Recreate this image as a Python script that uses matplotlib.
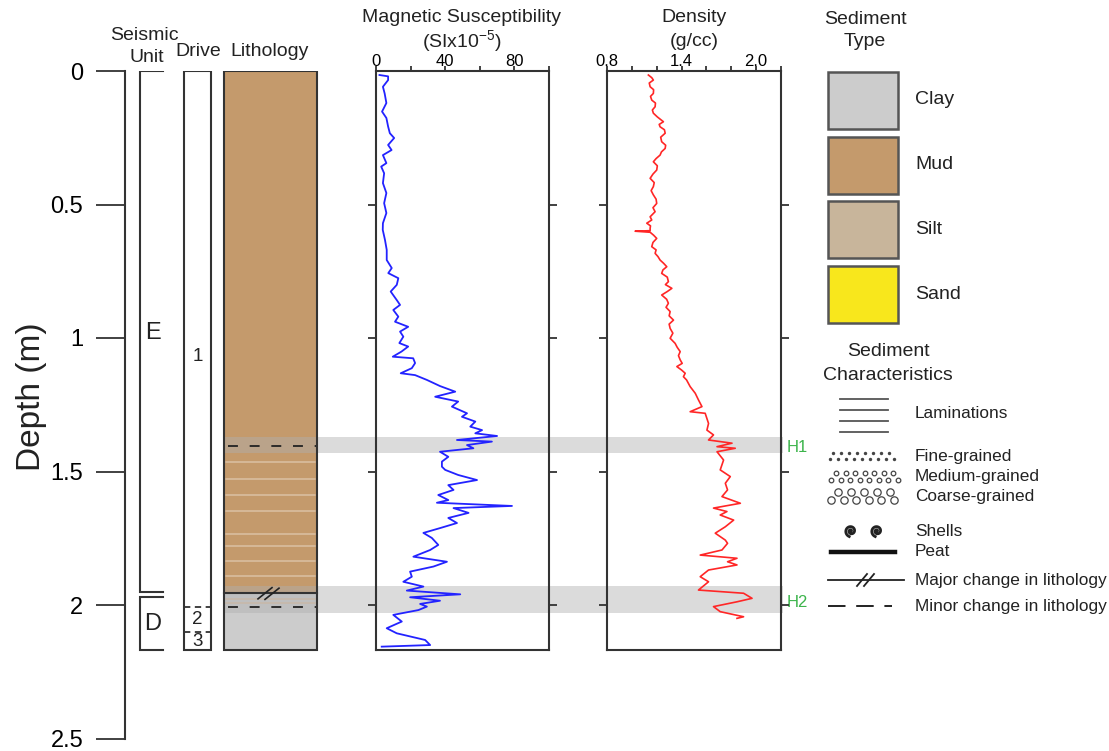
import numpy as np
import matplotlib.pyplot as plt
from matplotlib.patches import Rectangle

plt.rcParams['font.family'] = ['Liberation Sans', 'DejaVu Sans']
plt.rcParams['mathtext.default'] = 'regular'
plt.rcParams['text.color'] = '#222222'

# magnetic susceptibility log (depth in m, SI x 10^-5)
ms_depth = [0.015, 0.020, 0.034, 0.059, 0.084, 0.120, 0.152, 0.176, 0.208, 0.233,
            0.251, 0.277, 0.296, 0.315, 0.345, 0.358, 0.383, 0.420, 0.457, 0.495,
            0.532, 0.570, 0.595, 0.633, 0.670, 0.708, 0.738, 0.757, 0.776, 0.801,
            0.826, 0.858, 0.876, 0.895, 0.920, 0.939, 0.958, 0.976, 0.995, 1.019,
            1.032, 1.051, 1.070, 1.076, 1.094, 1.113, 1.132, 1.139, 1.157, 1.180,
            1.201, 1.220, 1.238, 1.257, 1.282, 1.295, 1.313, 1.332, 1.345, 1.357,
            1.367, 1.382, 1.388, 1.401, 1.413, 1.426, 1.445, 1.463, 1.482, 1.494,
            1.513, 1.532, 1.551, 1.569, 1.588, 1.607, 1.617, 1.629, 1.637, 1.655,
            1.674, 1.693, 1.712, 1.730, 1.749, 1.775, 1.794, 1.819, 1.838, 1.856,
            1.875, 1.894, 1.913, 1.931, 1.946, 1.960, 1.971, 1.984, 1.996, 2.006,
            2.019, 2.037, 2.062, 2.087, 2.106, 2.131, 2.150, 2.156]
ms_value = [2.0, 7.0, 7.0, 4.0, 5.0, 6.0, 3.5, 6.0, 7.0, 8.0,
            10.5, 7.0, 9.0, 4.0, 6.0, 3.0, 4.7, 4.0, 6.0, 4.7,
            6.0, 4.0, 3.9, 5.2, 6.2, 6.2, 9.1, 7.1, 12.9, 12.0,
            8.5, 12.0, 13.9, 10.0, 12.9, 11.0, 18.6, 13.9, 15.8, 13.5,
            18.6, 14.7, 9.7, 21.5, 22.6, 20.7, 14.3, 22.6, 29.4, 37.0,
            45.8, 34.2, 47.5, 43.9, 52.6, 49.7, 57.4, 54.5, 61.3, 57.4,
            70.0, 46.8, 67.0, 52.6, 56.3, 37.0, 41.8, 38.1, 38.1, 40.0,
            47.5, 58.4, 41.8, 44.8, 36.0, 41.8, 35.2, 78.6, 44.8, 53.5,
            41.8, 46.8, 37.0, 27.4, 32.3, 36.0, 31.3, 21.6, 41.0, 33.2,
            19.7, 20.7, 15.8, 27.4, 17.8, 48.7, 19.7, 37.0, 25.5, 29.4,
            24.5, 10.0, 14.9, 6.2, 12.0, 28.4, 31.3, 3.3]

# bulk density log (depth in m, g/cc)
dens_depth = [0.015, 0.025, 0.034, 0.045, 0.059, 0.070, 0.084, 0.095, 0.109, 0.120,
              0.134, 0.146, 0.158, 0.172, 0.190, 0.200, 0.209, 0.220, 0.233, 0.248,
              0.265, 0.278, 0.290, 0.303, 0.315, 0.328, 0.340, 0.355, 0.371, 0.386,
              0.402, 0.418, 0.433, 0.448, 0.464, 0.480, 0.496, 0.512, 0.527, 0.546,
              0.558, 0.570, 0.580, 0.589, 0.598, 0.600, 0.604, 0.615, 0.627, 0.642,
              0.658, 0.670, 0.683, 0.695, 0.708, 0.720, 0.733, 0.745, 0.758, 0.772,
              0.789, 0.800, 0.814, 0.826, 0.839, 0.855, 0.870, 0.885, 0.901, 0.917,
              0.933, 0.948, 0.964, 0.982, 1.001, 1.020, 1.035, 1.051, 1.066, 1.082,
              1.095, 1.107, 1.120, 1.132, 1.145, 1.157, 1.182, 1.207, 1.232, 1.257,
              1.276, 1.282, 1.320, 1.345, 1.363, 1.382, 1.394, 1.407, 1.413, 1.426,
              1.457, 1.494, 1.519, 1.544, 1.569, 1.594, 1.619, 1.637, 1.650, 1.663,
              1.682, 1.707, 1.731, 1.757, 1.769, 1.794, 1.813, 1.825, 1.838, 1.850,
              1.869, 1.894, 1.913, 1.944, 1.956, 1.975, 1.988, 2.006, 2.025, 2.044,
              2.050]
dens_value = [1.133, 1.160, 1.173, 1.140, 1.147, 1.175, 1.173, 1.150, 1.160, 1.190,
              1.187, 1.165, 1.173, 1.205, 1.254, 1.220, 1.227, 1.262, 1.268, 1.232,
              1.240, 1.272, 1.268, 1.238, 1.227, 1.195, 1.173, 1.205, 1.200, 1.170,
              1.147, 1.180, 1.173, 1.155, 1.173, 1.195, 1.200, 1.170, 1.187, 1.147,
              1.160, 1.120, 1.150, 1.147, 1.147, 1.026, 1.147, 1.175, 1.200, 1.170,
              1.160, 1.195, 1.187, 1.210, 1.227, 1.255, 1.281, 1.250, 1.240, 1.285,
              1.294, 1.270, 1.322, 1.285, 1.240, 1.280, 1.294, 1.275, 1.308, 1.300,
              1.335, 1.300, 1.308, 1.330, 1.308, 1.348, 1.365, 1.389, 1.375, 1.389,
              1.405, 1.362, 1.400, 1.429, 1.415, 1.440, 1.469, 1.510, 1.536, 1.564,
              1.469, 1.590, 1.617, 1.604, 1.657, 1.617, 1.806, 1.685, 1.832, 1.685,
              1.738, 1.711, 1.792, 1.752, 1.770, 1.725, 1.873, 1.657, 1.765, 1.711,
              1.819, 1.752, 1.671, 1.752, 1.770, 1.725, 1.550, 1.846, 1.770, 1.846,
              1.617, 1.550, 1.617, 1.536, 1.899, 1.967, 1.846, 1.657, 1.711, 1.899,
              1.846]

core_base = 2.17

# lithology
lith_top = [0.0, 1.955]
lith_base = [1.955, core_base]
lith_type = ['Mud', 'Clay']
lamination_depths = [1.464, 1.528, 1.588, 1.648, 1.734, 1.779, 1.835, 1.891, 1.978, 1.993]
minor_change_depths = [1.403, 2.009]
major_change_depths = [1.955]

# seismic units and core drives
unit_names = ['E', 'D']
unit_top = [0.0, 1.969]
unit_base = [1.953, core_base]
drive_names = ['1', '2', '3']
drive_top = [0.0, 2.009, 2.100]
drive_base = [2.009, 2.100, core_base]

# correlated horizons
horizon_names = ['H1', 'H2']
horizon_top = [1.371, 1.929]
horizon_base = [1.431, 2.030]

sed_types = ['Clay', 'Mud', 'Silt', 'Sand']
sed_colors = {'Clay': '#cccccc', 'Mud': '#c49a6c', 'Silt': '#c8b59b', 'Sand': '#f8e71c'}
char_labels = ['Laminations', 'Fine-grained', 'Medium-grained', 'Coarse-grained',
               'Shells', 'Peat', 'Major change in lithology', 'Minor change in lithology']

W, H = 1109, 751
TOP, PPM = 71, 267   # pixel row of 0 m, pixels per metre
EDGE = '#333333'


def box(x0, x1, d0, d1):
    y0 = TOP + d0 * PPM
    y1 = TOP + d1 * PPM
    return [x0 / W, 1 - y1 / H, (x1 - x0) / W, (y1 - y0) / H]


fig = plt.figure(figsize=(W / 100, H / 100), dpi=100)

# depth axis + core columns
ax = fig.add_axes(box(125, 800, 0, 2.5))
ax.set_xlim(125, 800)
ax.set_ylim(2.5, 0)
ax.patch.set_visible(False)
for s in ['top', 'right', 'bottom']:
    ax.spines[s].set_visible(False)
ax.spines['left'].set_color(EDGE)
ax.spines['left'].set_linewidth(1.5)
ax.set_xticks([])
ax.set_yticks([0, 0.5, 1, 1.5, 2, 2.5])
ax.set_yticklabels(['0', '0.5', '1', '1.5', '2', '2.5'])
ax.tick_params(axis='y', length=21, width=1.3, color=EDGE, pad=9, labelsize=17)
fig.text(32 / W, 1 - 397 / H, 'Depth (m)', rotation=90, ha='center', va='center', fontsize=24)

# seismic units
for name, t, b in zip(unit_names, unit_top, unit_base):
    ax.plot([163, 140, 140, 163], [t, t, b, b], color=EDGE, lw=1.5, solid_joinstyle='miter')
    ax.text(153, (t + b) / 2 if b - t < 0.5 else 0.98, name, ha='center', va='center', fontsize=17)

# drives
ax.add_patch(Rectangle((184, 0), 27, core_base, fill=False, ec=EDGE, lw=1.5, zorder=2))
for i, (name, t, b) in enumerate(zip(drive_names, drive_top, drive_base)):
    if i > 0:
        ax.plot([184, 211], [t, t], color=EDGE, lw=1.3, ls=(0, (3.5, 2.5)))
    ax.text(197.5, (t + b) / 2 if b - t < 0.5 else 1.07, name, ha='center', va='center',
            fontsize=13.5)

# lithology
for t, b, kind in zip(lith_top, lith_base, lith_type):
    ax.add_patch(Rectangle((224, t), 93, b - t, fc=sed_colors[kind], ec='none', zorder=1))
for d in lamination_depths:
    ax.plot([226, 315], [d, d], color='#dbc0a3', lw=1.1, zorder=2)
for d in minor_change_depths:
    ax.plot([228, 317], [d, d], color='#222222', lw=1.3, ls=(0, (5.5, 6.5)), zorder=4)
for d in major_change_depths:
    ax.plot([224, 317], [d, d], color='#333333', lw=1.5, zorder=4)
    ax.plot([258, 272], [d + 0.022, d - 0.02], color='#222222', lw=1.2, zorder=4)
    ax.plot([265, 279], [d + 0.024, d - 0.018], color='#222222', lw=1.2, zorder=4)
ax.add_patch(Rectangle((224, 0), 93, core_base, fill=False, ec=EDGE, lw=1.5, zorder=5))

# horizons
for name, t, b in zip(horizon_names, horizon_top, horizon_base):
    ax.add_patch(Rectangle((224, t), 783 - 224, b - t, fc='#b0b0b0', alpha=0.45, ec='none', zorder=3))
    ax.text(787, (t + b) / 2 + 0.01, name, color='#3cb44b', fontsize=12, va='center', ha='left')


def log_axes(x0, x1):
    a = fig.add_axes(box(x0, x1, 0, core_base))
    a.patch.set_visible(False)
    a.set_ylim(core_base, 0)
    for s in a.spines.values():
        s.set_color(EDGE)
        s.set_linewidth(1.5)
    a.xaxis.tick_top()
    a.set_yticks([0.5, 1, 1.5, 2])
    a.tick_params(axis='y', left=True, right=True, labelleft=False, length=6,
                  width=1.3, color=EDGE, direction='out')
    a.tick_params(axis='x', length=3.6, width=1.3, color=EDGE, pad=-2.5, labelsize=12)
    return a


# magnetic susceptibility
ax_ms = log_axes(376, 549)
ax_ms.set_xlim(0, 100)
ax_ms.set_xticks(range(0, 101, 20))
ax_ms.set_xticklabels(['0', '', '40', '', '80', ''])
ax_ms.plot(ms_value, ms_depth, color='#2323ff', lw=1.3)

# density
ax_den = log_axes(607, 781)
ax_den.set_xlim(0.8, 2.2)
ax_den.set_xticks(np.arange(0.8, 2.21, 0.2))
ax_den.set_xticklabels(['0.8', '', '', '1.4', '', '', '2.0', ''])
ax_den.plot(dens_value, dens_depth, color='#ff2626', lw=1.2)

# headers and legend in pixel space
axp = fig.add_axes([0, 0, 1, 1])
axp.set_xlim(0, W)
axp.set_ylim(H, 0)
axp.axis('off')
axp.patch.set_visible(False)

hdr = dict(ha='center', va='center', fontsize=14)
axp.text(144, 36, 'Seismic', **hdr)
axp.text(147, 58, 'Unit', **hdr)
axp.text(198, 52, 'Drive', **hdr)
axp.text(270, 52, 'Lithology', **hdr)
axp.text(462, 18, 'Magnetic Susceptibility', **hdr)
axp.text(462, 41, '(SIx10$^{-5}$)', **hdr)
axp.text(694, 18, 'Density', **hdr)
axp.text(694, 41, '(g/cc)', **hdr)

axp.text(865, 19, 'Sediment', **hdr)
axp.text(865, 42, 'Type', **hdr)
for i, kind in enumerate(sed_types):
    y = 72 + i * 64.7
    axp.add_patch(Rectangle((828, y), 70, 57, fc=sed_colors[kind], ec='#555555', lw=1.8))
    axp.text(915, y + 28, kind, ha='left', va='center', fontsize=14)

axp.text(888, 352, 'Sediment', **hdr)
axp.text(888, 375, 'Characteristics', **hdr)
lab_y = [413, 456, 476, 496, 531, 552, 581, 606]
for lab, y in zip(char_labels, lab_y):
    axp.text(915, y, lab, ha='left', va='center', fontsize=12.4)

for y in [399, 410, 421, 432]:
    axp.plot([840, 888], [y, y], color='#555555', lw=1.3)

# grain-size symbols
axp.scatter(833 + 8 * np.arange(8), np.full(8, 453), s=6, color='#444444', lw=0)
axp.scatter(830 + 8 * np.arange(9), np.full(9, 459), s=6, color='#444444', lw=0)
axp.scatter(836 + 9.5 * np.arange(7), np.full(7, 472.5), s=11, fc='white', ec='#444444', lw=0.9)
axp.scatter(831 + 9.5 * np.arange(8), np.full(8, 479.5), s=11, fc='white', ec='#444444', lw=0.9)
axp.scatter(838 + 13 * np.arange(5), np.full(5, 491.5), s=28, fc='white', ec='#444444', lw=0.9)
axp.scatter(831 + 12.5 * np.arange(6), np.full(6, 500), s=28, fc='white', ec='#444444', lw=0.9)

# shells
th = np.linspace(0, 3.4 * np.pi, 120)
r = 0.3 + 5.5 * th / th.max()
for cx in [851, 877]:
    axp.plot(cx + r * np.cos(th), 531 - r * np.sin(th), color='#222222', lw=2.0)

axp.plot([831, 895], [552, 552], color='#111111', lw=3.2)
axp.plot([828, 904], [580, 580], color='#222222', lw=1.3)
axp.plot([857, 867], [586, 574], color='#222222', lw=1.3)
axp.plot([864, 874], [586, 574], color='#222222', lw=1.3)
axp.plot([828, 892], [606, 606], color='#222222', lw=1.4, ls=(0, (9, 5.5)))

fig.savefig('out.png', dpi=100)
